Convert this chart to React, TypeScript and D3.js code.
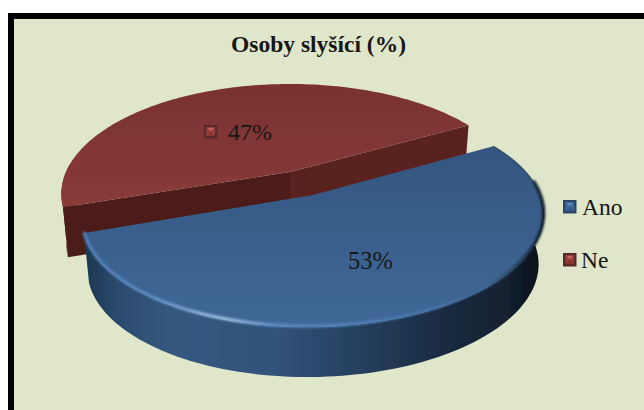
import React from "react";
import * as d3 from "d3";

const categories = ["Ano", "Ne"];
const values = [53, 47];
const labels = ["53%", "47%"];
const title = "Osoby slyšící (%)";

const W = 644, H = 410;
const rad = (d: number) => (d * Math.PI) / 180;
const RY = 105.6, K = 0.2, DEPTH = 50, SHRINK = 0.978;
const START = rad(-29);

const pieGen = d3.pie<number>().sort(null).startAngle(START).endAngle(START + 2 * Math.PI);
const slices = pieGen(values);

type C = { cx: number; cy: number; r: number; tilt: number };
const blueC: C = { cx: 313, cy: 195, r: 226, tilt: -0.012 };
const redC: C = { cx: 290, cy: 172, r: 224, tilt: 0 };

const project = (c: C, a: number, bottom = false): [number, number] => {
  const u = Math.cos(a), v = Math.sin(a);
  const s = 1 / (1 - K * v);
  const dx = c.r * u * s;
  return [
    c.cx + dx * (bottom ? SHRINK : 1),
    c.cy + RY * v * s + c.tilt * dx + (bottom ? DEPTH : 0),
  ];
};
const arcPts = (c: C, a0: number, a1: number, bottom = false) =>
  d3.range(0, 121).map((i) => project(c, a0 + ((a1 - a0) * i) / 120, bottom));
const line = d3.line();

const topPath = (c: C, a0: number, a1: number) =>
  line([[c.cx, c.cy], ...arcPts(c, a0, a1)]) + "Z";
const wallPath = (c: C, a0: number, a1: number) =>
  line([...arcPts(c, a0, a1), ...arcPts(c, a0, a1, true).reverse()]) + "Z";

const FONT = "'Liberation Serif','Times New Roman',serif";
const INK = "#171717";

function Marker({ x, y, s, cols }: { x: number; y: number; s: number; cols: string[] }) {
  const b = 2.5, c = s / 2;
  const a = b, e = s - b;
  return (
    <g transform={`translate(${x},${y})`}>
      <rect width={s} height={s} fill={cols[0]} />
      <polygon points={`${a},${a} ${e},${a} ${c},${c}`} fill={cols[1]} />
      <polygon points={`${e},${a} ${e},${e} ${c},${c}`} fill={cols[2]} />
      <polygon points={`${a},${e} ${e},${e} ${c},${c}`} fill={cols[3]} />
      <polygon points={`${a},${a} ${a},${e} ${c},${c}`} fill={cols[2]} />
    </g>
  );
}

const blueMarker = ["#2b4668", "#5b8cc8", "#3d6a9f", "#2f5a92"];
const redMarker = ["#5b2a28", "#c9605c", "#9c3f3c", "#8c3431"];

export default function App() {
  const [blue, red] = slices;
  const center: [number, number] = [redC.cx, redC.cy];
  const centerB: [number, number] = [redC.cx, redC.cy + DEPTH];
  const cutL = [project(redC, red.startAngle), center, centerB, project(redC, red.startAngle, true)];
  const cutR = [center, project(redC, red.endAngle), project(redC, red.endAngle, true), centerB];
  return (
    <svg width={W} height={H} style={{ position: "absolute", left: 0, top: 0 }}>
      <defs>
        <linearGradient id="redTop" x1="0" y1="0" x2="0" y2="1">
          <stop offset="0" stopColor="#793230" />
          <stop offset="1" stopColor="#893b39" />
        </linearGradient>
        <linearGradient id="blueTop" x1="0" y1="0" x2="0" y2="1">
          <stop offset="0" stopColor="#345680" />
          <stop offset="1" stopColor="#406897" />
        </linearGradient>
        <linearGradient id="blueWall" gradientUnits="userSpaceOnUse" x1="84" y1="0" x2="543" y2="0">
          <stop offset="0" stopColor="#1c3650" />
          <stop offset="0.08" stopColor="#2c4c70" />
          <stop offset="0.2" stopColor="#36587f" />
          <stop offset="0.42" stopColor="#31527a" />
          <stop offset="0.6" stopColor="#263f5f" />
          <stop offset="0.78" stopColor="#1a2b41" />
          <stop offset="0.92" stopColor="#132130" />
          <stop offset="1" stopColor="#080f18" />
        </linearGradient>
        <linearGradient id="rim" gradientUnits="userSpaceOnUse" x1="84" y1="0" x2="543" y2="0">
          <stop offset="0" stopColor="#4f7fb6" />
          <stop offset="0.15" stopColor="#5c8cc4" />
          <stop offset="0.3" stopColor="#9fc0e4" />
          <stop offset="0.42" stopColor="#5a8ac4" />
          <stop offset="0.75" stopColor="#4673a8" />
          <stop offset="0.88" stopColor="#3c638f" />
          <stop offset="0.95" stopColor="#223850" />
          <stop offset="1" stopColor="#0b1824" />
        </linearGradient>
        <filter id="soft" x="-5%" y="-5%" width="110%" height="110%">
          <feGaussianBlur stdDeviation="1" />
        </filter>
        <filter id="aa" x="-5%" y="-5%" width="110%" height="110%">
          <feGaussianBlur stdDeviation="0.35" />
        </filter>
      </defs>

      <rect width={W} height={H} fill="#ffffff" />
      <rect x={8} y={13} width={W} height={H} fill="#000000" />
      <rect x={14} y={19} width={W} height={H} fill="#dfe6c9" />

      <text x={318.5} y={52} textAnchor="middle" fontFamily={FONT} fontWeight="bold" fontSize={23.5} fill={INK}>
        {title}
      </text>

      {/* Ne slice */}
      <path d={wallPath(redC, red.startAngle, rad(185))} fill="#3a1615" />
      <path d={line(cutL) + "Z"} fill="#4c1c1a" />
      <path d={line(cutR) + "Z"} fill="#59221f" />
      <path d={topPath(redC, red.startAngle, red.endAngle)} fill="url(#redTop)" />

      {/* Ano slice */}
      <path d={wallPath(blueC, blue.startAngle, blue.endAngle)} fill="url(#blueWall)" filter="url(#aa)" />
      <path d={topPath(blueC, blue.startAngle, blue.endAngle)} fill="url(#blueTop)" />
      <path
        d={line(arcPts(blueC, rad(-6), blue.endAngle).map(([x, y]) => [x, y - 1] as [number, number])) as string}
        fill="none"
        stroke="url(#rim)"
        strokeWidth={3.2}
        filter="url(#soft)"
      />
      <path
        d={line(arcPts(blueC, blue.startAngle, rad(-2))) as string}
        fill="none"
        stroke="#1d3248"
        strokeOpacity={0.45}
        strokeWidth={1.5}
        filter="url(#aa)"
      />

      <text x={348} y={269} fontFamily={FONT} fontSize={24.5} fill={INK}>{labels[0]}</text>
      <text x={228} y={140} fontFamily={FONT} fontSize={24} fill={INK}>{labels[1]}</text>
      <Marker x={204} y={125} s={13.5} cols={redMarker} />

      <Marker x={563} y={200} s={13.5} cols={blueMarker} />
      <text x={582} y={215} fontFamily={FONT} fontSize={23.5} fill={INK}>{categories[0]}</text>
      <Marker x={563} y={253} s={13.5} cols={redMarker} />
      <text x={581} y={268} fontFamily={FONT} fontSize={23.5} fill={INK}>{categories[1]}</text>
    </svg>
  );
}
